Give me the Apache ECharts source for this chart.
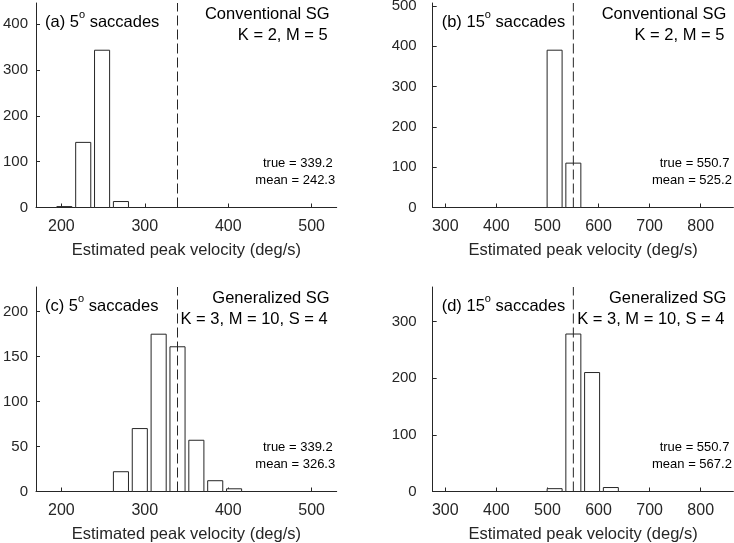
<!DOCTYPE html>
<html>
<head>
<meta charset="utf-8">
<script src="https://cdn.jsdelivr.net/npm/echarts@6/dist/echarts.min.js"></script>
<style>
html, body { margin: 0; padding: 0; background: #fff; }
#chart { width: 734px; height: 543px; }
</style>
</head>
<body>
<div id="chart"></div>
<script>
// histogram bins (centres) and counts
var centersA = [203.6, 226.2, 248.8, 271.4];
var countsA = [2, 142, 343, 13];
var centersB = [514.0, 550.7];
var countsB = [390, 110];
var centersC = [271.4, 294.0, 316.6, 339.2, 361.8, 384.4, 407.0];
var countsC = [22, 70, 175, 161, 57, 12, 3];
var centersD = [514.0, 550.7, 587.4, 624.1];
var countsD = [5, 278, 210, 7];
var binWidths = [22.6, 36.7, 22.6, 36.7];
var trueVals = [339.2, 550.7, 339.2, 550.7];
var meanVals = [242.3, 525.2, 326.3, 567.2];
var yMax = [446, 507, 227.5, 361];
var yTicks = [[0, 100, 200, 300, 400], [0, 100, 200, 300, 400, 500], [0, 50, 100, 150, 200], [0, 100, 200, 300]];
var xTicks5 = [200, 300, 400, 500];
var xTicks15 = [300, 400, 500, 600, 700, 800];
var xRange5 = [169.6, 530];
var xRange15 = [275.35, 864];
var panelTags = ['(a) 5', '(b) 15', '(c) 5', '(d) 15'];
var methodNames = ['Conventional SG', 'Conventional SG', 'Generalized SG', 'Generalized SG'];
var paramTexts = ['K = 2, M = 5', 'K = 2, M = 5', 'K = 3, M = 10, S = 4', 'K = 3, M = 10, S = 4'];

var axisColor = '#262626';
var font = 'Liberation Sans, Arial, Helvetica, sans-serif';
var myChart = echarts.init(document.getElementById('chart'));

var centers = [centersA, centersB, centersC, centersD];
var counts = [countsA, countsB, countsC, countsD];
var lefts = [36, 432.7, 36, 432.7];
var tops = [3, 3, 287, 287];
var plotW = 300.7, plotH = 204.5;

var grids = [], xAxes = [], yAxes = [], series = [], texts = [];

for (var i = 0; i < 4; i++) {
  var wide = (i % 2 === 1);
  grids.push({left: lefts[i], top: tops[i], width: plotW, height: plotH,
    containLabel: false, outerBoundsMode: 'none'});
  xAxes.push({
    type: 'value', gridIndex: i,
    min: wide ? xRange15[0] : xRange5[0],
    max: wide ? xRange15[1] : xRange5[1],
    name: 'Estimated peak velocity (deg/s)',
    nameLocation: 'middle', nameGap: 34,
    nameTextStyle: {color: axisColor, fontSize: 16.5, fontFamily: font},
    axisLine: {onZero: false, lineStyle: {color: axisColor, width: 1}},
    axisTick: {inside: true, length: 4, lineStyle: {color: axisColor},
      customValues: wide ? xTicks15 : xTicks5},
    axisLabel: {color: axisColor, fontSize: 16, fontFamily: font, margin: 11,
      customValues: wide ? xTicks15 : xTicks5},
    splitLine: {show: false}
  });
  yAxes.push({
    type: 'value', gridIndex: i, min: 0, max: yMax[i],
    axisLine: {show: true, lineStyle: {color: axisColor, width: 1}},
    axisTick: {show: true, inside: true, length: 4, lineStyle: {color: axisColor},
      customValues: yTicks[i]},
    axisLabel: {color: axisColor, fontSize: 15, fontFamily: font, margin: wide ? 16 : 8,
      customValues: yTicks[i]},
    splitLine: {show: false}
  });

  var data = centers[i].map(function (c, k) { return [c, counts[i][k]]; });
  (function (bw) {
    series.push({
      type: 'custom', xAxisIndex: i, yAxisIndex: i,
      encode: {x: 0, y: 1},
      data: data,
      silent: true,
      renderItem: function (params, api) {
        var c = api.value(0), h = api.value(1);
        var p0 = api.coord([c - bw * 0.4, h]);
        var p1 = api.coord([c + bw * 0.4, 0]);
        return {
          type: 'rect',
          shape: {x: p0[0], y: p0[1], width: p1[0] - p0[0], height: p1[1] - p0[1]},
          style: {fill: '#fff', stroke: axisColor, lineWidth: 1}
        };
      }
    });
  })(binWidths[i]);

  // dashed line at the true peak velocity
  series.push({
    type: 'line', xAxisIndex: i, yAxisIndex: i,
    data: [[trueVals[i], 0], [trueVals[i], yMax[i]]],
    symbol: 'none', silent: true, z: 5,
    lineStyle: {color: axisColor, width: 1, type: [10, 4]}
  });

  var x0 = lefts[i], y0 = tops[i], x1 = lefts[i] + plotW;
  texts.push({
    type: 'text', x: x0 + 9, y: y0 + 19,
    style: {text: panelTags[i] + '{sup|o} saccades', fill: '#000', fontSize: 16.5, fontFamily: font,
      lineHeight: 25, align: 'left', verticalAlign: 'middle',
      rich: {sup: {fontSize: 11, lineHeight: 11, fontFamily: font, verticalAlign: 'top', fill: '#000'}}}
  });
  texts.push({
    type: 'text', x: x1 - 7, y: y0 + 11.5,
    style: {text: methodNames[i], fill: '#000', fontSize: 16.5, fontFamily: font,
      align: 'right', verticalAlign: 'middle'}
  });
  texts.push({
    type: 'text', x: x1 - 9, y: y0 + 32,
    style: {text: paramTexts[i], fill: '#000', fontSize: 16.5, fontFamily: font,
      align: 'right', verticalAlign: 'middle'}
  });
  texts.push({
    type: 'text', x: x1 - 4, y: y0 + 160,
    style: {text: 'true = ' + trueVals[i].toFixed(1), fill: '#000', fontSize: 13, fontFamily: font,
      align: 'right', verticalAlign: 'middle'}
  });
  texts.push({
    type: 'text', x: x1 - 1.5, y: y0 + 177.5,
    style: {text: 'mean = ' + meanVals[i].toFixed(1), fill: '#000', fontSize: 13, fontFamily: font,
      align: 'right', verticalAlign: 'middle'}
  });
}

var option = {
  animation: false,
  backgroundColor: '#fff',
  grid: grids,
  xAxis: xAxes,
  yAxis: yAxes,
  series: series,
  graphic: texts
};
myChart.setOption(option);
</script>
</body>
</html>
